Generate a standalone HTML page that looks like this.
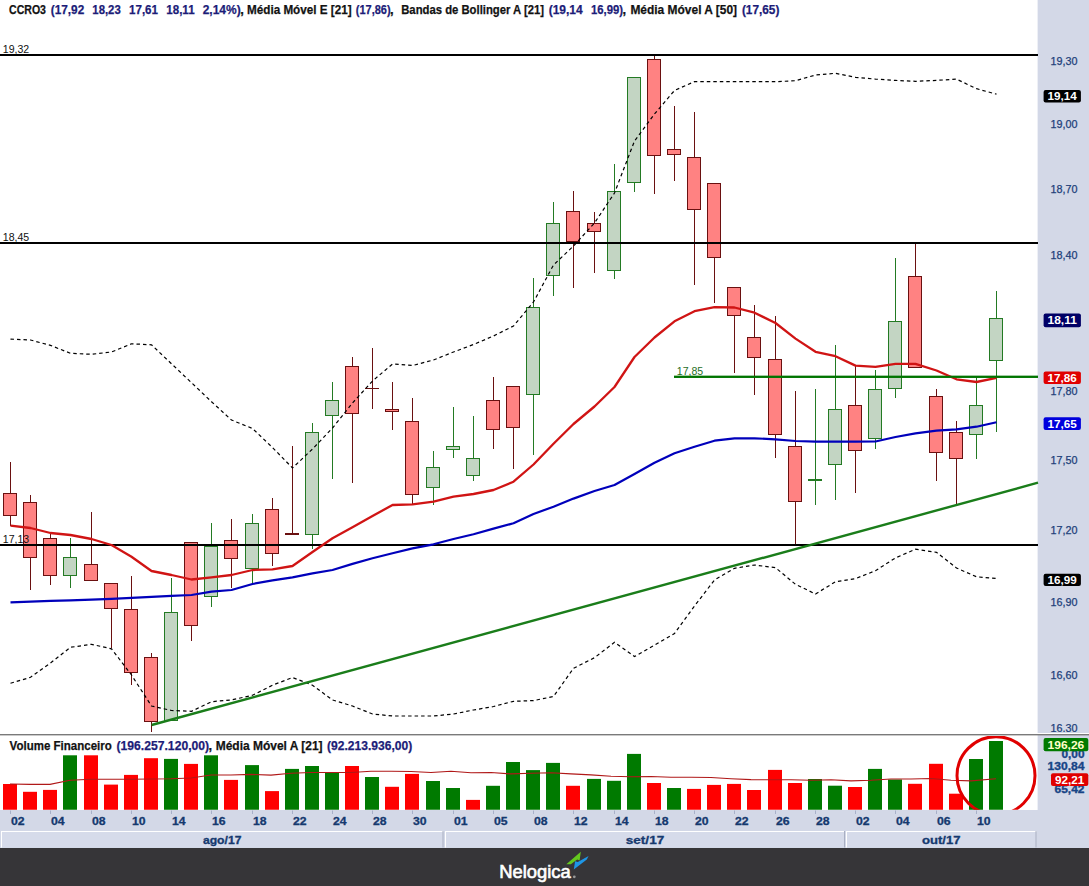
<!DOCTYPE html><html><head><meta charset="utf-8"><style>html,body{margin:0;padding:0;background:#fff;width:1089px;height:886px;overflow:hidden}svg{display:block}text{font-family:"Liberation Sans",sans-serif}</style></head><body>
<svg width="1089" height="886" viewBox="0 0 1089 886">
<rect x="0" y="0" width="1089" height="886" fill="#ffffff"/>
<rect x="1038" y="0" width="51" height="848" fill="#d3d8e7"/>
<line x1="1037.5" y1="0" x2="1037.5" y2="810" stroke="#eef0f6" stroke-width="1"/>
<rect x="0" y="810" width="1089" height="38" fill="#d3d8e7"/>
<defs><clipPath id="main"><rect x="0" y="20" width="1038" height="713"/></clipPath><clipPath id="ax"><rect x="1038" y="0" width="51" height="732.1"/></clipPath><clipPath id="vol"><rect x="0" y="736" width="1038" height="73.7"/></clipPath></defs>
<rect x="10" y="462" width="1" height="64" fill="#6a1010"/>
<rect x="3.5" y="493.5" width="13" height="22" fill="#ff8282" stroke="#6a1010" stroke-width="1"/>
<rect x="30" y="495" width="1" height="95" fill="#6a1010"/>
<rect x="23.5" y="502.5" width="13" height="55" fill="#ff8282" stroke="#6a1010" stroke-width="1"/>
<rect x="50" y="534" width="1" height="51" fill="#6a1010"/>
<rect x="43.5" y="538.5" width="13" height="37" fill="#ff8282" stroke="#6a1010" stroke-width="1"/>
<rect x="70" y="538" width="1" height="50" fill="#237a23"/>
<rect x="63.5" y="557.5" width="13" height="18" fill="#c3d5c3" stroke="#237a23" stroke-width="1"/>
<rect x="91" y="512" width="1" height="69" fill="#6a1010"/>
<rect x="84.5" y="564.5" width="13" height="16" fill="#ff8282" stroke="#6a1010" stroke-width="1"/>
<rect x="111" y="583" width="1" height="65" fill="#6a1010"/>
<rect x="104.5" y="583.5" width="13" height="25" fill="#ff8282" stroke="#6a1010" stroke-width="1"/>
<rect x="131" y="576" width="1" height="109" fill="#6a1010"/>
<rect x="124.5" y="609.5" width="13" height="63" fill="#ff8282" stroke="#6a1010" stroke-width="1"/>
<rect x="151" y="653" width="1" height="79" fill="#6a1010"/>
<rect x="144.5" y="657.5" width="13" height="64" fill="#ff8282" stroke="#6a1010" stroke-width="1"/>
<rect x="171" y="578" width="1" height="143" fill="#237a23"/>
<rect x="164.5" y="612.5" width="13" height="108" fill="#c3d5c3" stroke="#237a23" stroke-width="1"/>
<rect x="191" y="542" width="1" height="99" fill="#6a1010"/>
<rect x="184.5" y="542.5" width="13" height="83" fill="#ff8282" stroke="#6a1010" stroke-width="1"/>
<rect x="211" y="523" width="1" height="84" fill="#237a23"/>
<rect x="204.5" y="546.5" width="13" height="50" fill="#c3d5c3" stroke="#237a23" stroke-width="1"/>
<rect x="231" y="519" width="1" height="69" fill="#6a1010"/>
<rect x="224.5" y="540.5" width="13" height="18" fill="#ff8282" stroke="#6a1010" stroke-width="1"/>
<rect x="252" y="514" width="1" height="71" fill="#237a23"/>
<rect x="245.5" y="523.5" width="13" height="45" fill="#c3d5c3" stroke="#237a23" stroke-width="1"/>
<rect x="272" y="498" width="1" height="68" fill="#6a1010"/>
<rect x="265.5" y="509.5" width="13" height="44" fill="#ff8282" stroke="#6a1010" stroke-width="1"/>
<rect x="292" y="446" width="1" height="88" fill="#6a1010"/>
<rect x="285" y="533" width="14" height="2" fill="#6a1010"/>
<rect x="312" y="423" width="1" height="126" fill="#237a23"/>
<rect x="305.5" y="432.5" width="13" height="102" fill="#c3d5c3" stroke="#237a23" stroke-width="1"/>
<rect x="332" y="382" width="1" height="97" fill="#237a23"/>
<rect x="325.5" y="400.5" width="13" height="15" fill="#c3d5c3" stroke="#237a23" stroke-width="1"/>
<rect x="352" y="357" width="1" height="126" fill="#6a1010"/>
<rect x="345.5" y="366.5" width="13" height="47" fill="#ff8282" stroke="#6a1010" stroke-width="1"/>
<rect x="372" y="348" width="1" height="61" fill="#6a1010"/>
<rect x="365" y="388" width="14" height="1" fill="#6a1010"/>
<rect x="392" y="382" width="1" height="48" fill="#6a1010"/>
<rect x="385.5" y="409.5" width="13" height="2" fill="#ff8282" stroke="#6a1010" stroke-width="1"/>
<rect x="412" y="398" width="1" height="107" fill="#6a1010"/>
<rect x="405.5" y="421.5" width="13" height="73" fill="#ff8282" stroke="#6a1010" stroke-width="1"/>
<rect x="433" y="451" width="1" height="54" fill="#237a23"/>
<rect x="426.5" y="467.5" width="13" height="20" fill="#c3d5c3" stroke="#237a23" stroke-width="1"/>
<rect x="453" y="407" width="1" height="51" fill="#237a23"/>
<rect x="446.5" y="446.5" width="13" height="3" fill="#c3d5c3" stroke="#237a23" stroke-width="1"/>
<rect x="473" y="416" width="1" height="65" fill="#237a23"/>
<rect x="466.5" y="458.5" width="13" height="17" fill="#c3d5c3" stroke="#237a23" stroke-width="1"/>
<rect x="493" y="377" width="1" height="72" fill="#6a1010"/>
<rect x="486.5" y="400.5" width="13" height="29" fill="#ff8282" stroke="#6a1010" stroke-width="1"/>
<rect x="513" y="386" width="1" height="83" fill="#6a1010"/>
<rect x="506.5" y="386.5" width="13" height="41" fill="#ff8282" stroke="#6a1010" stroke-width="1"/>
<rect x="533" y="278" width="1" height="177" fill="#237a23"/>
<rect x="526.5" y="307.5" width="13" height="87" fill="#c3d5c3" stroke="#237a23" stroke-width="1"/>
<rect x="553" y="202" width="1" height="94" fill="#237a23"/>
<rect x="546.5" y="223.5" width="13" height="52" fill="#c3d5c3" stroke="#237a23" stroke-width="1"/>
<rect x="573" y="191" width="1" height="97" fill="#6a1010"/>
<rect x="566.5" y="211.5" width="13" height="30" fill="#ff8282" stroke="#6a1010" stroke-width="1"/>
<rect x="594" y="212" width="1" height="61" fill="#6a1010"/>
<rect x="587.5" y="223.5" width="13" height="8" fill="#ff8282" stroke="#6a1010" stroke-width="1"/>
<rect x="614" y="164" width="1" height="115" fill="#237a23"/>
<rect x="607.5" y="191.5" width="13" height="79" fill="#c3d5c3" stroke="#237a23" stroke-width="1"/>
<rect x="634" y="77" width="1" height="115" fill="#237a23"/>
<rect x="627.5" y="77.5" width="13" height="105" fill="#c3d5c3" stroke="#237a23" stroke-width="1"/>
<rect x="654" y="55" width="1" height="139" fill="#6a1010"/>
<rect x="647.5" y="59.5" width="13" height="96" fill="#ff8282" stroke="#6a1010" stroke-width="1"/>
<rect x="674" y="106" width="1" height="75" fill="#6a1010"/>
<rect x="667.5" y="149.5" width="13" height="5" fill="#ff8282" stroke="#6a1010" stroke-width="1"/>
<rect x="694" y="112" width="1" height="173" fill="#6a1010"/>
<rect x="687.5" y="157.5" width="13" height="52" fill="#ff8282" stroke="#6a1010" stroke-width="1"/>
<rect x="714" y="183" width="1" height="120" fill="#6a1010"/>
<rect x="707.5" y="183.5" width="13" height="74" fill="#ff8282" stroke="#6a1010" stroke-width="1"/>
<rect x="734" y="287" width="1" height="86" fill="#6a1010"/>
<rect x="727.5" y="287.5" width="13" height="28" fill="#ff8282" stroke="#6a1010" stroke-width="1"/>
<rect x="754" y="305" width="1" height="90" fill="#6a1010"/>
<rect x="747.5" y="337.5" width="13" height="20" fill="#ff8282" stroke="#6a1010" stroke-width="1"/>
<rect x="775" y="316" width="1" height="142" fill="#6a1010"/>
<rect x="768.5" y="359.5" width="13" height="75" fill="#ff8282" stroke="#6a1010" stroke-width="1"/>
<rect x="795" y="391" width="1" height="153" fill="#6a1010"/>
<rect x="788.5" y="446.5" width="13" height="55" fill="#ff8282" stroke="#6a1010" stroke-width="1"/>
<rect x="815" y="389" width="1" height="116" fill="#237a23"/>
<rect x="808" y="479" width="14" height="2" fill="#237a23"/>
<rect x="835" y="345" width="1" height="155" fill="#237a23"/>
<rect x="828.5" y="409.5" width="13" height="55" fill="#c3d5c3" stroke="#237a23" stroke-width="1"/>
<rect x="855" y="365" width="1" height="128" fill="#6a1010"/>
<rect x="848.5" y="405.5" width="13" height="45" fill="#ff8282" stroke="#6a1010" stroke-width="1"/>
<rect x="875" y="370" width="1" height="79" fill="#237a23"/>
<rect x="868.5" y="389.5" width="13" height="49" fill="#c3d5c3" stroke="#237a23" stroke-width="1"/>
<rect x="895" y="258" width="1" height="140" fill="#237a23"/>
<rect x="888.5" y="321.5" width="13" height="67" fill="#c3d5c3" stroke="#237a23" stroke-width="1"/>
<rect x="915" y="243" width="1" height="125" fill="#6a1010"/>
<rect x="908.5" y="276.5" width="13" height="91" fill="#ff8282" stroke="#6a1010" stroke-width="1"/>
<rect x="936" y="389" width="1" height="92" fill="#6a1010"/>
<rect x="929.5" y="396.5" width="13" height="56" fill="#ff8282" stroke="#6a1010" stroke-width="1"/>
<rect x="956" y="421" width="1" height="84" fill="#6a1010"/>
<rect x="949.5" y="432.5" width="13" height="26" fill="#ff8282" stroke="#6a1010" stroke-width="1"/>
<rect x="976" y="377" width="1" height="82" fill="#237a23"/>
<rect x="969.5" y="405.5" width="13" height="29" fill="#c3d5c3" stroke="#237a23" stroke-width="1"/>
<rect x="996" y="291" width="1" height="141" fill="#237a23"/>
<rect x="989.5" y="318.5" width="13" height="42" fill="#c3d5c3" stroke="#237a23" stroke-width="1"/>
<rect x="0" y="54.0" width="1038" height="2" fill="#000"/>
<rect x="0" y="242.0" width="1038" height="2" fill="#000"/>
<rect x="0" y="544.0" width="1038" height="2" fill="#000"/>
<polyline points="10.5,339.1 30.5,340.0 50.5,345.4 70.5,353.3 91.5,354.3 111.5,352.0 131.5,343.8 151.5,344.8 171.5,363.8 191.5,382.7 211.5,401.7 231.5,420.0 252.5,428.5 272.5,447.5 292.5,468.0 312.5,449.0 332.5,428.0 352.5,403.0 372.5,381.0 392.5,364.0 412.5,365.5 433.5,360.0 453.5,352.0 473.5,344.5 493.5,336.0 513.5,326.0 533.5,302.0 553.5,265.0 573.5,246.0 594.5,223.0 614.5,193.0 634.5,141.0 654.5,114.0 674.5,90.5 694.5,81.6 714.5,81.7 734.5,81.7 754.5,81.7 775.5,81.7 795.5,80.7 815.5,75.0 835.5,73.3 855.5,77.3 875.5,79.1 895.5,80.4 915.5,81.3 936.5,80.4 956.5,79.1 976.5,88.7 996.5,94.2" fill="none" stroke="#000" stroke-width="1.2" stroke-dasharray="3.5,3"/>
<polyline points="10.5,683.3 30.5,677.3 50.5,663.0 70.5,647.3 91.5,644.3 111.5,648.8 131.5,675.0 151.5,706.0 171.5,710.5 191.5,711.3 211.5,701.7 231.5,699.9 252.5,695.3 272.5,685.2 292.5,677.5 312.5,685.2 332.5,700.0 352.5,706.0 372.5,714.0 392.5,716.0 412.5,716.0 433.5,716.0 453.5,714.0 473.5,710.0 493.5,706.5 513.5,701.3 533.5,700.6 553.5,696.5 573.5,668.3 594.5,657.7 614.5,642.3 634.5,656.6 654.5,645.2 674.5,633.5 694.5,606.0 714.5,580.0 734.5,568.3 754.5,565.0 775.5,567.7 795.5,584.3 815.5,594.0 835.5,581.7 855.5,578.6 875.5,570.7 895.5,557.9 915.5,549.2 936.5,552.3 956.5,568.0 976.5,576.8 996.5,578.4" fill="none" stroke="#000" stroke-width="1.2" stroke-dasharray="3.5,3"/>
<rect x="674" y="375.8" width="364" height="2" fill="#007400"/>
<line x1="151.6" y1="725" x2="1038" y2="482.7" stroke="#1a7d1a" stroke-width="2.4"/>
<polyline points="10.5,602.3 30.5,601.6 50.5,600.9 70.5,600.3 91.5,599.6 111.5,598.8 131.5,597.8 151.5,596.8 171.5,595.9 191.5,595.0 211.5,591.7 231.5,590.0 252.5,584.0 272.5,580.4 292.5,577.3 312.5,573.4 332.5,570.0 352.5,563.9 372.5,558.3 392.5,553.3 412.5,548.4 433.5,544.3 453.5,539.0 473.5,534.2 493.5,528.6 513.5,523.3 533.5,514.0 553.5,506.7 573.5,498.6 594.5,491.0 614.5,485.0 634.5,474.0 654.5,462.7 674.5,453.3 694.5,446.7 714.5,440.7 734.5,438.3 754.5,438.3 775.5,439.3 795.5,441.0 815.5,441.7 835.5,441.6 855.5,441.6 875.5,441.5 895.5,437.0 915.5,433.3 936.5,430.7 956.5,429.3 976.5,426.7 996.5,422.3" fill="none" stroke="#0000bb" stroke-width="2.2" stroke-linejoin="round"/>
<polyline points="10.5,525.7 30.5,528.0 50.5,533.0 70.5,535.0 91.5,539.0 111.5,545.0 131.5,556.7 151.5,571.0 171.5,575.0 191.5,579.5 211.5,577.3 231.5,575.0 252.5,570.0 272.5,569.3 292.5,566.0 312.5,552.0 332.5,538.3 352.5,527.3 372.5,516.0 392.5,505.0 412.5,504.3 433.5,501.7 453.5,496.7 473.5,494.0 493.5,490.0 513.5,481.7 533.5,464.5 553.5,443.8 573.5,424.0 594.5,406.5 614.5,387.0 634.5,357.0 654.5,337.5 674.5,321.3 694.5,311.2 714.5,307.2 734.5,307.5 754.5,312.7 775.5,323.0 795.5,338.6 815.5,351.8 835.5,356.2 855.5,365.6 875.5,366.8 895.5,363.9 915.5,363.9 936.5,370.5 956.5,379.3 976.5,382.0 996.5,377.8" fill="none" stroke="#d01414" stroke-width="2.3" stroke-linejoin="round"/>
<rect x="674" y="375.8" width="364" height="2" fill="#007400"/>
<text x="676.8" y="374.6" font-size="10.5" fill="#1f6e1f" textLength="26.4" lengthAdjust="spacingAndGlyphs">17,85</text>
</g>
<text x="2.8" y="52.9" font-size="10.5" fill="#101010" textLength="26.4" lengthAdjust="spacingAndGlyphs">19,32</text>
<text x="2.8" y="240.7" font-size="10.5" fill="#101010" textLength="26.4" lengthAdjust="spacingAndGlyphs">18,45</text>
<text x="2.8" y="542.8" font-size="10.5" fill="#101010" textLength="26.4" lengthAdjust="spacingAndGlyphs">17,13</text>
<text x="9.0" y="13.7" font-size="13.0" font-weight="bold" fill="#121212" stroke="#121212" stroke-width="0.25" textLength="37.0" lengthAdjust="spacingAndGlyphs">CCRO3</text>
<text x="50.8" y="13.7" font-size="13.0" font-weight="bold" fill="#1c1c78" stroke="#1c1c78" stroke-width="0.25" textLength="33.4" lengthAdjust="spacingAndGlyphs">(17,92</text>
<text x="92.3" y="13.7" font-size="13.0" font-weight="bold" fill="#1c1c78" stroke="#1c1c78" stroke-width="0.25" textLength="28.5" lengthAdjust="spacingAndGlyphs">18,23</text>
<text x="129.0" y="13.7" font-size="13.0" font-weight="bold" fill="#1c1c78" stroke="#1c1c78" stroke-width="0.25" textLength="29.0" lengthAdjust="spacingAndGlyphs">17,61</text>
<text x="166.3" y="13.7" font-size="13.0" font-weight="bold" fill="#1c1c78" stroke="#1c1c78" stroke-width="0.25" textLength="28.3" lengthAdjust="spacingAndGlyphs">18,11</text>
<text x="202.7" y="13.7" font-size="13.0" font-weight="bold" fill="#1c1c78" stroke="#1c1c78" stroke-width="0.25" textLength="38.0" lengthAdjust="spacingAndGlyphs">2,14%)</text>
<text x="240.2" y="13.7" font-size="13" font-weight="bold" fill="#121212" stroke="#121212" stroke-width="0.25">,</text>
<text x="247.0" y="13.7" font-size="13.0" font-weight="bold" fill="#121212" stroke="#121212" stroke-width="0.25" textLength="104.6" lengthAdjust="spacingAndGlyphs">Média Móvel E [21]</text>
<text x="355.8" y="13.7" font-size="13.0" font-weight="bold" fill="#1c1c78" stroke="#1c1c78" stroke-width="0.25" textLength="34.8" lengthAdjust="spacingAndGlyphs">(17,86)</text>
<text x="390.1" y="13.7" font-size="13" font-weight="bold" fill="#121212" stroke="#121212" stroke-width="0.25">,</text>
<text x="401.2" y="13.7" font-size="13.0" font-weight="bold" fill="#121212" stroke="#121212" stroke-width="0.25" textLength="142.9" lengthAdjust="spacingAndGlyphs">Bandas de Bollinger A [21]</text>
<text x="548.7" y="13.7" font-size="13.0" font-weight="bold" fill="#1c1c78" stroke="#1c1c78" stroke-width="0.25" textLength="34.0" lengthAdjust="spacingAndGlyphs">(19,14</text>
<text x="591.0" y="13.7" font-size="13.0" font-weight="bold" fill="#1c1c78" stroke="#1c1c78" stroke-width="0.25" textLength="32.1" lengthAdjust="spacingAndGlyphs">16,99)</text>
<text x="622.6" y="13.7" font-size="13" font-weight="bold" fill="#121212" stroke="#121212" stroke-width="0.25">,</text>
<text x="630.4" y="13.7" font-size="13.0" font-weight="bold" fill="#121212" stroke="#121212" stroke-width="0.25" textLength="106.7" lengthAdjust="spacingAndGlyphs">Média Móvel A [50]</text>
<text x="741.9" y="13.7" font-size="13.0" font-weight="bold" fill="#1c1c78" stroke="#1c1c78" stroke-width="0.25" textLength="37.5" lengthAdjust="spacingAndGlyphs">(17,65)</text>
<g clip-path="url(#ax)">
<text x="1050.5" y="64.7" font-size="10.5" fill="#1d3f7a" stroke="#1d3f7a" stroke-width="0.25" textLength="27" lengthAdjust="spacingAndGlyphs">19,30</text>
<text x="1050.5" y="128.4" font-size="10.5" fill="#1d3f7a" stroke="#1d3f7a" stroke-width="0.25" textLength="27" lengthAdjust="spacingAndGlyphs">19,00</text>
<text x="1050.5" y="193.4" font-size="10.5" fill="#1d3f7a" stroke="#1d3f7a" stroke-width="0.25" textLength="27" lengthAdjust="spacingAndGlyphs">18,70</text>
<text x="1050.5" y="259.4" font-size="10.5" fill="#1d3f7a" stroke="#1d3f7a" stroke-width="0.25" textLength="27" lengthAdjust="spacingAndGlyphs">18,40</text>
<text x="1050.5" y="395.2" font-size="10.5" fill="#1d3f7a" stroke="#1d3f7a" stroke-width="0.25" textLength="27" lengthAdjust="spacingAndGlyphs">17,80</text>
<text x="1050.5" y="463.9" font-size="10.5" fill="#1d3f7a" stroke="#1d3f7a" stroke-width="0.25" textLength="27" lengthAdjust="spacingAndGlyphs">17,50</text>
<text x="1050.5" y="534.0" font-size="10.5" fill="#1d3f7a" stroke="#1d3f7a" stroke-width="0.25" textLength="27" lengthAdjust="spacingAndGlyphs">17,20</text>
<text x="1050.5" y="605.5" font-size="10.5" fill="#1d3f7a" stroke="#1d3f7a" stroke-width="0.25" textLength="27" lengthAdjust="spacingAndGlyphs">16,90</text>
<text x="1050.5" y="679.2" font-size="10.5" fill="#1d3f7a" stroke="#1d3f7a" stroke-width="0.25" textLength="27" lengthAdjust="spacingAndGlyphs">16,60</text>
<text x="1050.5" y="731.9" font-size="10.5" fill="#1d3f7a" stroke="#1d3f7a" stroke-width="0.25" textLength="27" lengthAdjust="spacingAndGlyphs">16,30</text>
</g>
<rect x="1043.6" y="90.1" width="37.3" height="12.5" rx="2" ry="2" fill="#000000"/>
<text x="1062.2" y="100.3" font-size="11" font-weight="bold" fill="#ffffff" text-anchor="middle" textLength="29.3" lengthAdjust="spacingAndGlyphs">19,14</text>
<rect x="1043.6" y="313.6" width="37.3" height="13.6" rx="2" ry="2" fill="#000066"/>
<text x="1062.2" y="324.4" font-size="11" font-weight="bold" fill="#ffffff" text-anchor="middle" textLength="29.3" lengthAdjust="spacingAndGlyphs">18,11</text>
<rect x="1043.6" y="371.5" width="37.3" height="12.5" rx="2" ry="2" fill="#e00000"/>
<text x="1062.2" y="381.8" font-size="11" font-weight="bold" fill="#ffffff" text-anchor="middle" textLength="29.3" lengthAdjust="spacingAndGlyphs">17,86</text>
<rect x="1043.6" y="417.2" width="37.3" height="12.9" rx="2" ry="2" fill="#0000dd"/>
<text x="1062.2" y="427.6" font-size="11" font-weight="bold" fill="#ffffff" text-anchor="middle" textLength="29.3" lengthAdjust="spacingAndGlyphs">17,65</text>
<rect x="1043.6" y="573.7" width="37.3" height="12.2" rx="2" ry="2" fill="#000000"/>
<text x="1062.2" y="583.8" font-size="11" font-weight="bold" fill="#ffffff" text-anchor="middle" textLength="29.3" lengthAdjust="spacingAndGlyphs">16,99</text>
<rect x="0" y="733" width="1089" height="1" fill="#ffffff"/>
<rect x="0" y="734" width="1089" height="1.4" fill="#7a7a7a"/>
<g clip-path="url(#vol)">
<rect x="3" y="784.0" width="14" height="26.0" fill="#ff0000"/>
<rect x="23" y="791.8" width="14" height="18.2" fill="#ff0000"/>
<rect x="43" y="789.9" width="14" height="20.1" fill="#ff0000"/>
<rect x="63" y="755.3" width="14" height="54.7" fill="#007a00"/>
<rect x="84" y="755.3" width="14" height="54.7" fill="#ff0000"/>
<rect x="104" y="784.6" width="14" height="25.4" fill="#ff0000"/>
<rect x="124" y="774.9" width="14" height="35.1" fill="#ff0000"/>
<rect x="144" y="758.2" width="14" height="51.8" fill="#ff0000"/>
<rect x="164" y="758.9" width="14" height="51.1" fill="#007a00"/>
<rect x="184" y="763.9" width="14" height="46.1" fill="#ff0000"/>
<rect x="204" y="755.3" width="14" height="54.7" fill="#007a00"/>
<rect x="224" y="779.9" width="14" height="30.1" fill="#ff0000"/>
<rect x="245" y="765.1" width="14" height="44.9" fill="#007a00"/>
<rect x="265" y="791.1" width="14" height="18.9" fill="#ff0000"/>
<rect x="285" y="768.9" width="14" height="41.1" fill="#007a00"/>
<rect x="305" y="766.0" width="14" height="44.0" fill="#007a00"/>
<rect x="325" y="772.5" width="14" height="37.5" fill="#007a00"/>
<rect x="345" y="766.0" width="14" height="44.0" fill="#ff0000"/>
<rect x="365" y="777.0" width="14" height="33.0" fill="#007a00"/>
<rect x="385" y="786.8" width="14" height="23.2" fill="#ff0000"/>
<rect x="405" y="773.9" width="14" height="36.1" fill="#ff0000"/>
<rect x="426" y="781.0" width="14" height="29.0" fill="#007a00"/>
<rect x="446" y="788.0" width="14" height="22.0" fill="#007a00"/>
<rect x="466" y="799.9" width="14" height="10.1" fill="#ff0000"/>
<rect x="486" y="785.8" width="14" height="24.2" fill="#007a00"/>
<rect x="506" y="762.0" width="14" height="48.0" fill="#007a00"/>
<rect x="526" y="770.1" width="14" height="39.9" fill="#007a00"/>
<rect x="546" y="762.9" width="14" height="47.1" fill="#007a00"/>
<rect x="566" y="785.8" width="14" height="24.2" fill="#ff0000"/>
<rect x="587" y="778.9" width="14" height="31.1" fill="#007a00"/>
<rect x="607" y="780.8" width="14" height="29.2" fill="#007a00"/>
<rect x="627" y="753.9" width="14" height="56.1" fill="#007a00"/>
<rect x="647" y="783.0" width="14" height="27.0" fill="#ff0000"/>
<rect x="667" y="788.0" width="14" height="22.0" fill="#007a00"/>
<rect x="687" y="788.9" width="14" height="21.1" fill="#ff0000"/>
<rect x="707" y="784.9" width="14" height="25.1" fill="#ff0000"/>
<rect x="727" y="783.9" width="14" height="26.1" fill="#ff0000"/>
<rect x="747" y="790.0" width="14" height="20.0" fill="#ff0000"/>
<rect x="768" y="769.9" width="14" height="40.1" fill="#ff0000"/>
<rect x="788" y="783.0" width="14" height="27.0" fill="#ff0000"/>
<rect x="808" y="779.0" width="14" height="31.0" fill="#007a00"/>
<rect x="828" y="785.7" width="14" height="24.3" fill="#007a00"/>
<rect x="848" y="787.0" width="14" height="23.0" fill="#ff0000"/>
<rect x="868" y="768.9" width="14" height="41.1" fill="#007a00"/>
<rect x="888" y="779.5" width="14" height="30.5" fill="#007a00"/>
<rect x="908" y="783.8" width="14" height="26.2" fill="#ff0000"/>
<rect x="929" y="763.8" width="14" height="46.2" fill="#ff0000"/>
<rect x="949" y="793.7" width="14" height="16.3" fill="#ff0000"/>
<rect x="969" y="759.0" width="14" height="51.0" fill="#007a00"/>
<rect x="989" y="741.0" width="14" height="69.0" fill="#007a00"/>
<polyline points="10.0,784.0 30.0,784.4 50.0,784.4 70.0,780.3 91.0,779.2 131.0,779.2 171.0,778.7 191.0,778.0 211.0,775.0 231.0,775.0 251.0,774.4 271.0,775.1 291.0,773.2 311.0,772.5 351.0,772.5 371.0,771.3 391.0,771.3 411.0,771.5 431.0,772.5 451.0,771.3 471.0,772.7 491.0,772.5 511.0,773.9 531.0,773.2 551.0,772.7 571.0,773.9 591.0,774.9 611.0,776.3 631.0,776.8 651.0,776.5 671.0,777.2 691.0,777.2 711.0,777.5 731.0,778.7 751.0,779.6 771.0,779.8 791.0,779.8 811.0,780.3 831.0,779.8 851.0,780.9 871.0,780.3 891.0,779.0 911.0,779.0 931.0,778.5 951.0,780.3 971.0,780.9 996.0,778.8" fill="none" stroke="#b01818" stroke-width="1.1"/>
<circle cx="996" cy="775.7" r="39" fill="none" stroke="#e00000" stroke-width="3"/>
</g>
<text x="9.6" y="749.9" font-size="13.0" font-weight="bold" fill="#121212" stroke="#121212" stroke-width="0.25" textLength="102.2" lengthAdjust="spacingAndGlyphs">Volume Financeiro</text>
<text x="116.5" y="749.9" font-size="13.0" font-weight="bold" fill="#1c1c78" stroke="#1c1c78" stroke-width="0.25" textLength="92.6" lengthAdjust="spacingAndGlyphs">(196.257.120,00)</text>
<text x="208.6" y="749.9" font-size="13" font-weight="bold" fill="#121212" stroke="#121212" stroke-width="0.25">,</text>
<text x="215.7" y="749.9" font-size="13.0" font-weight="bold" fill="#121212" stroke="#121212" stroke-width="0.25" textLength="106.9" lengthAdjust="spacingAndGlyphs">Média Móvel A [21]</text>
<text x="327.0" y="749.9" font-size="13.0" font-weight="bold" fill="#1c1c78" stroke="#1c1c78" stroke-width="0.25" textLength="85.2" lengthAdjust="spacingAndGlyphs">(92.213.936,00)</text>
<text x="1084.5" y="757.8" font-size="11.5" font-weight="bold" fill="#174486" stroke="#174486" stroke-width="0.35" text-anchor="end" textLength="23" lengthAdjust="spacingAndGlyphs">0,00</text>
<text x="1084.5" y="769.8" font-size="11.5" font-weight="bold" fill="#174486" stroke="#174486" stroke-width="0.35" text-anchor="end" textLength="37" lengthAdjust="spacingAndGlyphs">130,84</text>
<text x="1084.5" y="792.8" font-size="11.5" font-weight="bold" fill="#174486" stroke="#174486" stroke-width="0.35" text-anchor="end" textLength="30" lengthAdjust="spacingAndGlyphs">65,42</text>
<rect x="1043.6" y="738.1" width="44.7" height="13.1" rx="2" ry="2" fill="#007a00"/>
<text x="1065.9" y="748.7" font-size="11" font-weight="bold" fill="#ffffc8" text-anchor="middle" textLength="36.7" lengthAdjust="spacingAndGlyphs">196,26</text>
<rect x="1051.0" y="773.3" width="37.3" height="12.7" rx="2" ry="2" fill="#e00000"/>
<text x="1069.7" y="783.6" font-size="11" font-weight="bold" fill="#ffffff" text-anchor="middle" textLength="29.3" lengthAdjust="spacingAndGlyphs">92,21</text>
<line x1="10.5" y1="810.5" x2="10.5" y2="814" stroke="#a8b0c8" stroke-width="1"/>
<text x="10.9" y="825.2" font-size="11.3" font-weight="bold" fill="#15396f" stroke="#15396f" stroke-width="0.3" textLength="13.6" lengthAdjust="spacingAndGlyphs">02</text>
<line x1="50.5" y1="810.5" x2="50.5" y2="814" stroke="#a8b0c8" stroke-width="1"/>
<text x="50.9" y="825.2" font-size="11.3" font-weight="bold" fill="#15396f" stroke="#15396f" stroke-width="0.3" textLength="13.6" lengthAdjust="spacingAndGlyphs">04</text>
<line x1="91.5" y1="810.5" x2="91.5" y2="814" stroke="#a8b0c8" stroke-width="1"/>
<text x="91.9" y="825.2" font-size="11.3" font-weight="bold" fill="#15396f" stroke="#15396f" stroke-width="0.3" textLength="13.6" lengthAdjust="spacingAndGlyphs">08</text>
<line x1="131.5" y1="810.5" x2="131.5" y2="814" stroke="#a8b0c8" stroke-width="1"/>
<text x="131.9" y="825.2" font-size="11.3" font-weight="bold" fill="#15396f" stroke="#15396f" stroke-width="0.3" textLength="13.6" lengthAdjust="spacingAndGlyphs">10</text>
<line x1="171.5" y1="810.5" x2="171.5" y2="814" stroke="#a8b0c8" stroke-width="1"/>
<text x="171.9" y="825.2" font-size="11.3" font-weight="bold" fill="#15396f" stroke="#15396f" stroke-width="0.3" textLength="13.6" lengthAdjust="spacingAndGlyphs">14</text>
<line x1="211.5" y1="810.5" x2="211.5" y2="814" stroke="#a8b0c8" stroke-width="1"/>
<text x="211.9" y="825.2" font-size="11.3" font-weight="bold" fill="#15396f" stroke="#15396f" stroke-width="0.3" textLength="13.6" lengthAdjust="spacingAndGlyphs">16</text>
<line x1="252.5" y1="810.5" x2="252.5" y2="814" stroke="#a8b0c8" stroke-width="1"/>
<text x="252.9" y="825.2" font-size="11.3" font-weight="bold" fill="#15396f" stroke="#15396f" stroke-width="0.3" textLength="13.6" lengthAdjust="spacingAndGlyphs">18</text>
<line x1="292.5" y1="810.5" x2="292.5" y2="814" stroke="#a8b0c8" stroke-width="1"/>
<text x="292.9" y="825.2" font-size="11.3" font-weight="bold" fill="#15396f" stroke="#15396f" stroke-width="0.3" textLength="13.6" lengthAdjust="spacingAndGlyphs">22</text>
<line x1="332.5" y1="810.5" x2="332.5" y2="814" stroke="#a8b0c8" stroke-width="1"/>
<text x="332.9" y="825.2" font-size="11.3" font-weight="bold" fill="#15396f" stroke="#15396f" stroke-width="0.3" textLength="13.6" lengthAdjust="spacingAndGlyphs">24</text>
<line x1="372.5" y1="810.5" x2="372.5" y2="814" stroke="#a8b0c8" stroke-width="1"/>
<text x="372.9" y="825.2" font-size="11.3" font-weight="bold" fill="#15396f" stroke="#15396f" stroke-width="0.3" textLength="13.6" lengthAdjust="spacingAndGlyphs">28</text>
<line x1="412.5" y1="810.5" x2="412.5" y2="814" stroke="#a8b0c8" stroke-width="1"/>
<text x="412.9" y="825.2" font-size="11.3" font-weight="bold" fill="#15396f" stroke="#15396f" stroke-width="0.3" textLength="13.6" lengthAdjust="spacingAndGlyphs">30</text>
<line x1="453.5" y1="810.5" x2="453.5" y2="814" stroke="#a8b0c8" stroke-width="1"/>
<text x="453.9" y="825.2" font-size="11.3" font-weight="bold" fill="#15396f" stroke="#15396f" stroke-width="0.3" textLength="13.6" lengthAdjust="spacingAndGlyphs">01</text>
<line x1="493.5" y1="810.5" x2="493.5" y2="814" stroke="#a8b0c8" stroke-width="1"/>
<text x="493.9" y="825.2" font-size="11.3" font-weight="bold" fill="#15396f" stroke="#15396f" stroke-width="0.3" textLength="13.6" lengthAdjust="spacingAndGlyphs">05</text>
<line x1="533.5" y1="810.5" x2="533.5" y2="814" stroke="#a8b0c8" stroke-width="1"/>
<text x="533.9" y="825.2" font-size="11.3" font-weight="bold" fill="#15396f" stroke="#15396f" stroke-width="0.3" textLength="13.6" lengthAdjust="spacingAndGlyphs">08</text>
<line x1="573.5" y1="810.5" x2="573.5" y2="814" stroke="#a8b0c8" stroke-width="1"/>
<text x="573.9" y="825.2" font-size="11.3" font-weight="bold" fill="#15396f" stroke="#15396f" stroke-width="0.3" textLength="13.6" lengthAdjust="spacingAndGlyphs">12</text>
<line x1="614.5" y1="810.5" x2="614.5" y2="814" stroke="#a8b0c8" stroke-width="1"/>
<text x="614.9" y="825.2" font-size="11.3" font-weight="bold" fill="#15396f" stroke="#15396f" stroke-width="0.3" textLength="13.6" lengthAdjust="spacingAndGlyphs">14</text>
<line x1="654.5" y1="810.5" x2="654.5" y2="814" stroke="#a8b0c8" stroke-width="1"/>
<text x="654.9" y="825.2" font-size="11.3" font-weight="bold" fill="#15396f" stroke="#15396f" stroke-width="0.3" textLength="13.6" lengthAdjust="spacingAndGlyphs">18</text>
<line x1="694.5" y1="810.5" x2="694.5" y2="814" stroke="#a8b0c8" stroke-width="1"/>
<text x="694.9" y="825.2" font-size="11.3" font-weight="bold" fill="#15396f" stroke="#15396f" stroke-width="0.3" textLength="13.6" lengthAdjust="spacingAndGlyphs">20</text>
<line x1="734.5" y1="810.5" x2="734.5" y2="814" stroke="#a8b0c8" stroke-width="1"/>
<text x="734.9" y="825.2" font-size="11.3" font-weight="bold" fill="#15396f" stroke="#15396f" stroke-width="0.3" textLength="13.6" lengthAdjust="spacingAndGlyphs">22</text>
<line x1="775.5" y1="810.5" x2="775.5" y2="814" stroke="#a8b0c8" stroke-width="1"/>
<text x="775.9" y="825.2" font-size="11.3" font-weight="bold" fill="#15396f" stroke="#15396f" stroke-width="0.3" textLength="13.6" lengthAdjust="spacingAndGlyphs">26</text>
<line x1="815.5" y1="810.5" x2="815.5" y2="814" stroke="#a8b0c8" stroke-width="1"/>
<text x="815.9" y="825.2" font-size="11.3" font-weight="bold" fill="#15396f" stroke="#15396f" stroke-width="0.3" textLength="13.6" lengthAdjust="spacingAndGlyphs">28</text>
<line x1="855.5" y1="810.5" x2="855.5" y2="814" stroke="#a8b0c8" stroke-width="1"/>
<text x="855.9" y="825.2" font-size="11.3" font-weight="bold" fill="#15396f" stroke="#15396f" stroke-width="0.3" textLength="13.6" lengthAdjust="spacingAndGlyphs">02</text>
<line x1="895.5" y1="810.5" x2="895.5" y2="814" stroke="#a8b0c8" stroke-width="1"/>
<text x="895.9" y="825.2" font-size="11.3" font-weight="bold" fill="#15396f" stroke="#15396f" stroke-width="0.3" textLength="13.6" lengthAdjust="spacingAndGlyphs">04</text>
<line x1="936.5" y1="810.5" x2="936.5" y2="814" stroke="#a8b0c8" stroke-width="1"/>
<text x="936.9" y="825.2" font-size="11.3" font-weight="bold" fill="#15396f" stroke="#15396f" stroke-width="0.3" textLength="13.6" lengthAdjust="spacingAndGlyphs">06</text>
<line x1="976.5" y1="810.5" x2="976.5" y2="814" stroke="#a8b0c8" stroke-width="1"/>
<text x="976.9" y="825.2" font-size="11.3" font-weight="bold" fill="#15396f" stroke="#15396f" stroke-width="0.3" textLength="13.6" lengthAdjust="spacingAndGlyphs">10</text>
<rect x="1.0" y="831" width="442.5" height="16.5" fill="#d6dbea"/>
<rect x="1.0" y="831" width="442.5" height="1" fill="#ffffff"/>
<rect x="1.0" y="831" width="1" height="16.5" fill="#ffffff"/>
<rect x="442.5" y="831" width="1" height="16.5" fill="#a9afc2"/>
<text x="222.2" y="844.3" font-size="11" font-weight="bold" fill="#15396f" stroke="#15396f" stroke-width="0.3" text-anchor="middle" textLength="38.5" lengthAdjust="spacingAndGlyphs">ago/17</text>
<rect x="445.0" y="831" width="400.0" height="16.5" fill="#d6dbea"/>
<rect x="445.0" y="831" width="400.0" height="1" fill="#ffffff"/>
<rect x="445.0" y="831" width="1" height="16.5" fill="#ffffff"/>
<rect x="844.0" y="831" width="1" height="16.5" fill="#a9afc2"/>
<text x="645.0" y="844.3" font-size="11" font-weight="bold" fill="#15396f" stroke="#15396f" stroke-width="0.3" text-anchor="middle" textLength="38.5" lengthAdjust="spacingAndGlyphs">set/17</text>
<rect x="846.0" y="831" width="190.5" height="16.5" fill="#d6dbea"/>
<rect x="846.0" y="831" width="190.5" height="1" fill="#ffffff"/>
<rect x="846.0" y="831" width="1" height="16.5" fill="#ffffff"/>
<rect x="1035.5" y="831" width="1" height="16.5" fill="#a9afc2"/>
<text x="941.2" y="844.3" font-size="11" font-weight="bold" fill="#15396f" stroke="#15396f" stroke-width="0.3" text-anchor="middle" textLength="38.5" lengthAdjust="spacingAndGlyphs">out/17</text>
<rect x="0" y="848" width="1089" height="38" fill="#363538"/>
<text x="499.2" y="877.5" font-size="17.5" fill="#ffffff" stroke="#ffffff" stroke-width="0.6" textLength="71.5" lengthAdjust="spacingAndGlyphs">Nelogica</text>
<circle cx="574.3" cy="876.8" r="1.4" fill="#9a9a9a"/>
<polygon points="566.3,864.3 580.8,851.8 579.6,860.6 577.2,859.6 570.8,864.3" fill="#64c81e"/>
<polygon points="573.8,869.6 575.1,861.2 577.8,862 588.6,856.0 586.8,859.4" fill="#1e96e6"/>
</svg></body></html>
